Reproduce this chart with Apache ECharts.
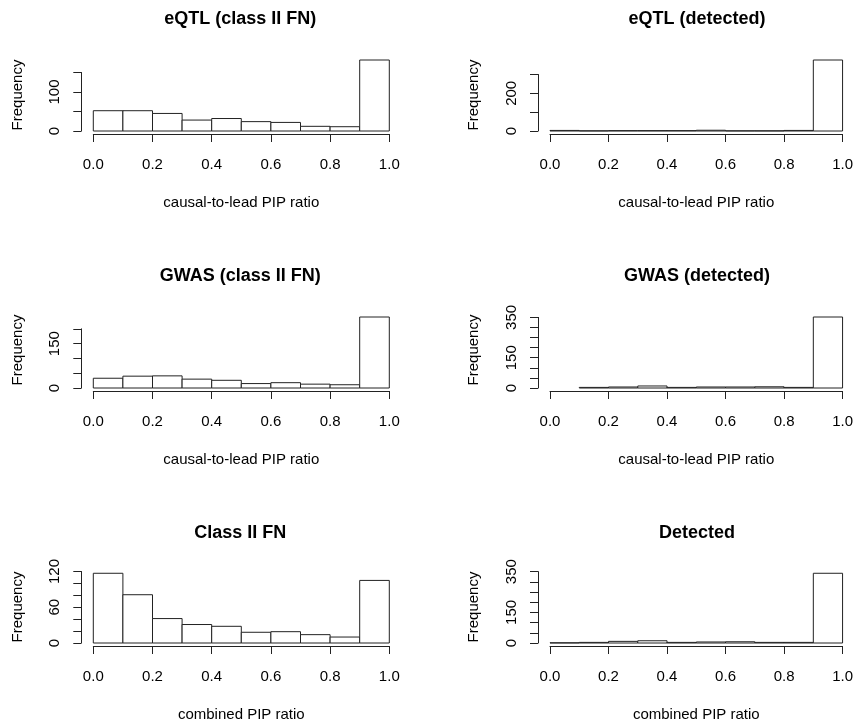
<!DOCTYPE html>
<html>
<head>
<meta charset="utf-8">
<script src="https://cdn.jsdelivr.net/npm/echarts@6/dist/echarts.min.js"></script>
<style>html,body{margin:0;padding:0;background:#fff;}#c{width:856px;height:723px;}</style>
</head>
<body>
<div id="c"></div>
<script>
// ---- data ----
const breaks = [0, 0.1, 0.2, 0.3, 0.4, 0.5, 0.6, 0.7, 0.8, 0.9, 1.0];
const xTicks = [0, 0.2, 0.4, 0.6, 0.8, 1.0];
const titles = ['eQTL (class II FN)', 'eQTL (detected)', 'GWAS (class II FN)', 'GWAS (detected)', 'Class II FN', 'Detected'];
const xLabels = ['causal-to-lead PIP ratio', 'causal-to-lead PIP ratio', 'causal-to-lead PIP ratio', 'causal-to-lead PIP ratio', 'combined PIP ratio', 'combined PIP ratio'];
const eqtlClass2 = [52, 52, 45, 28, 32, 24, 22, 12, 11, 182];
const eqtlDetected = [3, 1, 2, 2, 2, 4, 1, 1, 3, 377];
const gwasClass2 = [33, 40, 41, 30, 26, 15, 18, 13, 11, 240];
const gwasDetected = [null, 3, 5, 10, 3, 5, 5, 6, 3, 352];
const combClass2 = [117, 81, 41, 31, 28, 18, 19, 14, 10, 105];
const combDetected = [1, 3, 8, 11, 3, 5, 6, 3, 3, 342];
const yTickStep = [50, 100, 50, 50, 20, 50];
const yTickMax = [150, 300, 200, 350, 120, 350];
const yTickLabels = [[0, 100], [0, 200], [0, 150], [0, 150, 350], [0, 60, 120], [0, 150, 350]];
const panels = [eqtlClass2, eqtlDetected, gwasClass2, gwasDetected, combClass2, combDetected];

// ---- layout ----
const colLeft = [93.3, 550];
const dataWidth = 296;
const rowZero = [131, 388, 644.3];
const rowTitleY = [10, 267, 524];
const rowYlabY = [95, 350, 607];
const colYlabX = [18, 474];
const peakPx = 71;
const FONT = '"Liberation Sans", Arial, Helvetica, sans-serif';
const LINE = '#222';

const grids = [], xAxes = [], yAxes = [], series = [], titleComps = [], graphics = [];
panels.forEach((counts, i) => {
  const r = Math.floor(i / 2), c = i % 2;
  const maxC = Math.max(...counts.filter(v => v != null));
  const h = yTickMax[i] * peakPx / maxC;
  grids.push({left: colLeft[c], width: dataWidth, top: rowZero[r] - h, height: h});
  xAxes.push({
    type: 'value', gridIndex: i, min: 0, max: 1, interval: 0.2, offset: 3,
    axisLine: {show: true, onZero: false, lineStyle: {color: LINE, width: 1}},
    axisTick: {show: true, length: 8, lineStyle: {color: LINE}},
    splitLine: {show: false},
    axisLabel: {color: '#000', fontFamily: FONT, fontSize: 15, margin: 23,
      formatter: v => v.toFixed(1)},
    name: xLabels[i], nameLocation: 'middle', nameGap: 61,
    nameTextStyle: {color: '#000', fontFamily: FONT, fontSize: 15}
  });
  const shown = yTickLabels[i];
  yAxes.push({
    type: 'value', gridIndex: i, min: 0, max: yTickMax[i], interval: yTickStep[i], offset: 12,
    axisLine: {show: true, onZero: false, lineStyle: {color: LINE, width: 1}},
    axisTick: {show: true, length: 8, lineStyle: {color: LINE}},
    splitLine: {show: false},
    axisLabel: {color: '#000', fontFamily: FONT, fontSize: 15, rotate: 90, margin: 19,
      formatter: v => shown.indexOf(v) >= 0 ? String(v) : ''}
  });
  const data = [];
  counts.forEach((v, k) => { if (v != null) data.push([breaks[k], breaks[k + 1], v]); });
  series.push({
    type: 'custom', xAxisIndex: i, yAxisIndex: i, clip: false, silent: true,
    data: data,
    renderItem: function (params, api) {
      const p0 = api.coord([api.value(0), 0]);
      const p1 = api.coord([api.value(1), api.value(2)]);
      return {type: 'rect',
        shape: {x: p0[0], y: p1[1], width: p1[0] - p0[0], height: p0[1] - p1[1]},
        style: {fill: '#fff', stroke: LINE, lineWidth: 1}};
    }
  });
  titleComps.push({
    text: titles[i], left: colLeft[c] + dataWidth / 2 - 1, top: rowTitleY[r], textAlign: 'center', padding: 0,
    textStyle: {fontFamily: FONT, fontSize: 18, fontWeight: 'bold', color: '#000'}
  });
  graphics.push({
    type: 'text', x: colYlabX[c], y: rowYlabY[r], rotation: Math.PI / 2,
    style: {text: 'Frequency', font: '15px ' + FONT, fill: '#000',
      textAlign: 'center', textVerticalAlign: 'middle', align: 'center', verticalAlign: 'middle'}
  });
});

const chart = echarts.init(document.getElementById('c'), null, {renderer: 'canvas'});
chart.setOption({
  animation: false,
  backgroundColor: '#fff',
  title: titleComps,
  grid: grids,
  xAxis: xAxes,
  yAxis: yAxes,
  series: series,
  graphic: graphics
});
</script>
</body>
</html>
